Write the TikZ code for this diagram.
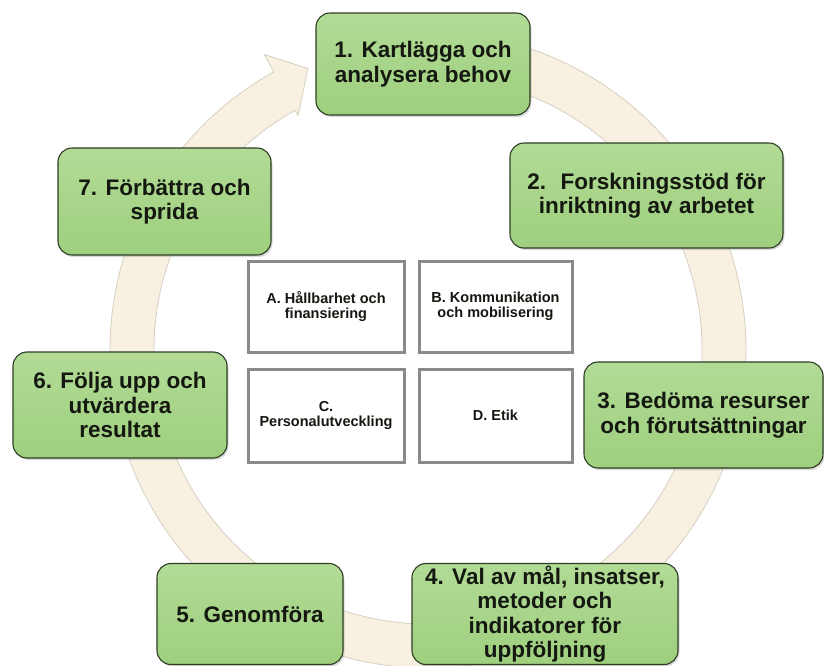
\documentclass[tikz,border=0pt]{standalone}
\usepackage{fontspec}
\setmainfont{Liberation Sans}
\usetikzlibrary{shadows,calc}
\definecolor{ringfill}{RGB}{248,241,226}
\definecolor{ringedge}{RGB}{214,207,194}
\definecolor{gtop}{RGB}{178,219,150}
\definecolor{gbot}{RGB}{158,207,126}
\definecolor{gedge}{RGB}{45,62,36}
\definecolor{txt}{RGB}{20,24,16}
\definecolor{iedge}{RGB}{138,138,138}
\tikzset{
  gbox/.style={rounded corners=14pt, top color=gtop, bottom color=gbot, draw=gedge,
    line width=1.1pt, align=center, text=txt, inner sep=2pt,
    font=\fontsize{22.5}{24.5}\selectfont\bfseries,
    drop shadow={opacity=0.3, shadow xshift=1.5pt, shadow yshift=-2pt}},
  ibox/.style={fill=white, draw=iedge, line width=3pt, align=center, text=txt,
    inner sep=2pt, font=\fontsize{14.5}{15.5}\selectfont\bfseries,
    drop shadow={opacity=0.25, shadow xshift=1.5pt, shadow yshift=-1.5pt}},
  ring/.style={fill=ringfill, draw=ringedge, line width=0.8pt, line join=round}
}
\begin{document}
\begin{tikzpicture}[x=1pt,y=1pt]
\useasboundingbox (0,0) rectangle (824,-665);
% circular background arrow
\coordinate (c) at (428,-350);
\filldraw[ring]
  ($(c)+(85:318)$) arc[start angle=85, end angle=-241, radius=318]
  -- ($(c)+(-241:338)$) -- ($(c)+(-246.9:306)$) -- ($(c)+(-241:268)$)
  -- ($(c)+(-241:274)$) arc[start angle=-241, end angle=85, radius=274] -- cycle;
% step boxes
\node[gbox, minimum width=214pt, minimum height=102pt] (s1) at (423,-64)
  {1. Kartlägga och\\analysera behov};
\node[gbox, minimum width=273pt, minimum height=105pt] (s2) at (646.5,-195.5)
  {2.~ Forskningsstöd för\\inriktning av arbetet};
\node[gbox, minimum width=239pt, minimum height=106pt] (s3) at (703.5,-415)
  {3. Bedöma resurser\\och förutsättningar};
\node[gbox, minimum width=266pt, minimum height=101pt] (s4) at (545,-614)
  {4. Val av mål, insatser,\\metoder och\\indikatorer för\\uppföljning};
\node[gbox, minimum width=186pt, minimum height=101pt] (s5) at (250,-614)
  {5. Genomföra};
\node[gbox, minimum width=214pt, minimum height=106pt] (s6) at (120,-405)
  {6. Följa upp och\\utvärdera\\resultat};
\node[gbox, minimum width=213pt, minimum height=107pt] (s7) at (164.5,-201.5)
  {7. Förbättra och\\sprida};
% inner boxes
\node[ibox, minimum width=156pt, minimum height=91pt] (a) at (326,-306.5)
  {A. Hållbarhet och\\finansiering};
\node[ibox, minimum width=153pt, minimum height=91pt] (b) at (495.5,-306.5)
  {B. Kommunikation\\och mobilisering};
\node[ibox, minimum width=156pt, minimum height=93pt] (cc) at (326,-415.5)
  {C.\\Personalutveckling};
\node[ibox, minimum width=153pt, minimum height=93pt] (d) at (495.5,-415.5)
  {D. Etik};
\end{tikzpicture}
\end{document}
